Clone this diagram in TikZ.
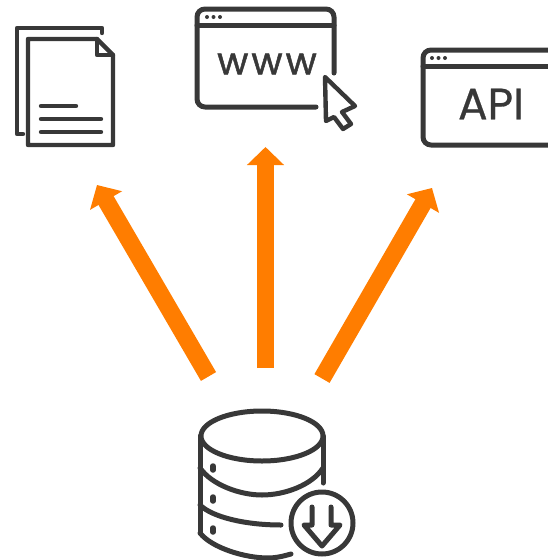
\documentclass[tikz,border=0pt]{standalone}
\usepackage{fontspec}
\setmainfont{Poppins}
\usetikzlibrary{arrows.meta}
\definecolor{ink}{HTML}{383838}
\definecolor{flow}{HTML}{FF7D00}
\tikzset{
  icon/.style={draw=ink,line width=5pt,line cap=round,line join=round},
  thin icon/.style={draw=ink,line width=4.4pt,line cap=round,line join=round},
  dotmark/.style={fill=ink,draw=none},
  flowarrow/.style={draw=flow,line width=17.5pt,-{Triangle[length=18pt,width=36pt]}},
  label/.style={text=ink,inner sep=0pt}
}
\begin{document}
\begin{tikzpicture}[x=1pt,y=-1pt]
\useasboundingbox (0,0) rectangle (548,560);
% documents
\draw[thin icon] (102,33) -- (102,28) -- (17,28) -- (17,134) -- (23,134);
\draw[thin icon] (28,39) -- (97,39) -- (113,55) -- (113,145) -- (28,145) -- cycle;
\draw[thin icon] (97,39) -- (97,55) -- (113,55);
\draw[thin icon] (41,106) -- (76,106);
\draw[thin icon] (41,119) -- (101,119);
\draw[thin icon] (41,132) -- (101,132);
% browser
\draw[icon] (334,73) -- (334,17) arc[start angle=0,end angle=-90,radius=8] -- (205,9) arc[start angle=-90,end angle=-180,radius=8] -- (197,99) arc[start angle=180,end angle=90,radius=8] -- (316,107);
\draw[icon] (197,25) -- (334,25);
\foreach \px in {207,213.5,220} \fill[dotmark] (\px,17) circle[radius=2];
\node[label,font=\fontsize{38}{38}\selectfont\addfontfeatures{LetterSpace=8,FakeBold=1.2}] (www) at (267,64) {www};
\draw[thin icon] (325,77) -- (355,106) -- (342,112) -- (351,124) -- (343,129) -- (334,117) -- (326,121) -- cycle;
% api
\draw[icon] (550,50) -- (431,50) arc[start angle=-90,end angle=-180,radius=8] -- (423,137) arc[start angle=180,end angle=90,radius=8] -- (550,145);
\draw[icon] (423,66) -- (550,66);
\foreach \px in {432,438.5,445} \fill[dotmark] (\px,58) circle[radius=2];
\node[label,font=\fontsize{44}{44}\selectfont\addfontfeatures{FakeBold=0.6}] (api) at (491,104) {API};
% database
\draw[icon] (262,436) ellipse[x radius=61,y radius=25];
\draw[icon] (323,436) -- (323,483);
\draw[icon] (200,436) -- (200,533);
\draw[icon] (200,468) .. controls (212,485) and (240,495) .. (262,495) .. controls (285,495) and (312,485) .. (323,468);
\draw[icon] (200,505) .. controls (212,517) and (245,525) .. (281,525);
\draw[icon] (200,533) .. controls (212,548) and (245,558) .. (268,558) .. controls (276,558) and (284,556) .. (291,554);
\draw[line width=5.5pt,draw=ink,line cap=round] (213,466) -- (213,470);
\draw[line width=5.5pt,draw=ink,line cap=round] (213,497) -- (213,501);
\draw[line width=5.5pt,draw=ink,line cap=round] (213,528) -- (213,532);
\draw[icon] (322,523) circle[radius=31];
\draw[icon] (312,507) -- (312,525) -- (304,525) -- (322,546) -- (340,525) -- (331,525) -- (331,507);
% arrows
\coordinate (srcL) at (208.5,376.5);
\coordinate (srcM) at (265.5,368);
\coordinate (srcR) at (322,378.5);
\coordinate (dstL) at (97,185);
\coordinate (dstM) at (265.5,147);
\coordinate (dstR) at (432,188);
\draw[flowarrow] (srcL) -- (dstL);
\draw[flowarrow] (srcM) -- (dstM);
\draw[flowarrow] (srcR) -- (dstR);
\end{tikzpicture}
\end{document}
